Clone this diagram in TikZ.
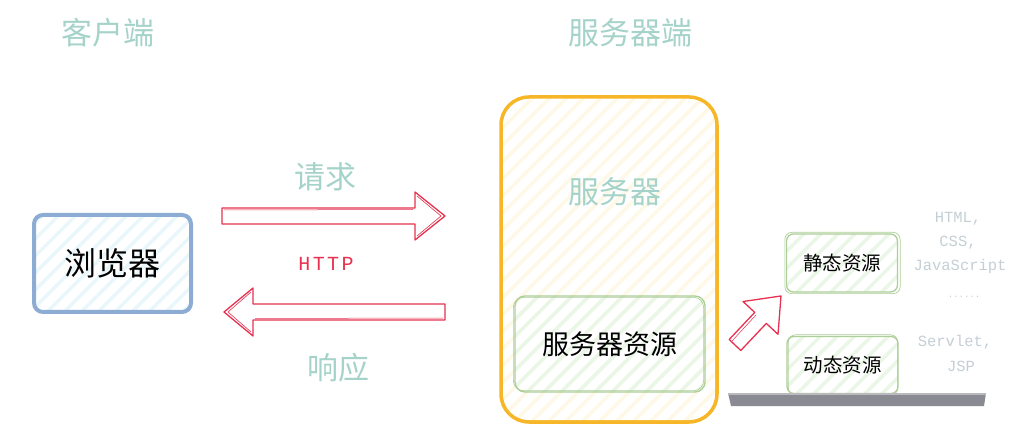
\documentclass[tikz,border=0pt]{standalone}
\usepackage{fontspec}
\setmainfont{Noto Sans CJK SC}
\newfontfamily\cjk{Noto Sans CJK SC}
\newfontfamily\hand[LetterSpace=12]{Liberation Mono}
\newfontfamily\handsm{Liberation Mono}
\usetikzlibrary{patterns.meta}
\definecolor{tealtxt}{RGB}{166,211,201}
\definecolor{graytxt}{RGB}{196,207,212}
\definecolor{redc}{RGB}{230,50,80}
\definecolor{bluec}{RGB}{140,172,212}
\definecolor{bluef}{RGB}{233,247,251}
\definecolor{orangec}{RGB}{246,182,40}
\definecolor{yellowf}{RGB}{254,248,230}
\definecolor{greenc}{RGB}{172,206,152}
\definecolor{greenf}{RGB}{234,246,230}
\definecolor{barc}{RGB}{138,138,146}
\tikzset{
  title/.style={text=tealtxt, font=\cjk\fontsize{31}{36}\selectfont, inner sep=0pt},
  note/.style={text=graytxt, font=\handsm\fontsize{15.5}{18}\selectfont, inner sep=0pt},
  stripes/.style={pattern={Lines[angle=45,distance=12pt,line width=3.5pt]}, pattern color=#1},
  bigarrow/.style={draw=redc, line width=1.3pt, fill=white, line join=round},
}
\begin{document}
\begin{tikzpicture}[x=1pt,y=-1pt]
\useasboundingbox (0,0) rectangle (1025,427);
% titles
\node[title] (client) at (108,33) {客户端};
\node[title] (servert) at (630,33) {服务器端};
% browser
\node[draw=bluec, line width=4pt, rounded corners=9pt, stripes=bluef,
      minimum width=157pt, minimum height=97pt, font=\cjk\fontsize{32}{36}\selectfont, inner sep=0pt]
      (browser) at (112.5,263.5) {浏览器};
\draw[bluec, line width=1pt, rounded corners=8pt] ([shift={(2,-2)}]browser.south west) rectangle ([shift={(-1,1)}]browser.north east);
% server
\node[draw=orangec, line width=3.5pt, rounded corners=28pt, stripes=yellowf,
      minimum width=216pt, minimum height=325pt, inner sep=0pt]
      (server) at (609,259.5) {};
\draw[orangec, line width=1pt, rounded corners=26pt] ([shift={(3,-3)}]server.south west) rectangle ([shift={(-3,2)}]server.north east);
\node[title] (servername) at (615,192) {服务器};
\node[draw=greenc, line width=1.3pt, rounded corners=10pt, stripes=greenf,
      minimum width=190pt, minimum height=96pt, font=\cjk\fontsize{27}{32}\selectfont, inner sep=0pt]
      (res) at (610,344) {服务器资源};
\draw[greenc, line width=0.7pt, rounded corners=10pt] ([shift={(-1,-2)}]res.south west) rectangle ([shift={(-2,2)}]res.north east);
% static / dynamic
\node[draw=greenc, line width=1.3pt, rounded corners=7pt, stripes=greenf,
      minimum width=111pt, minimum height=58pt, font=\cjk\fontsize{19.5}{24}\selectfont, inner sep=0pt]
      (static) at (842,263) {静态资源};
\draw[greenc, line width=0.7pt, rounded corners=7pt] ([shift={(-1,1)}]static.south west) rectangle ([shift={(2,-1)}]static.north east);
\node[draw=greenc, line width=1.3pt, rounded corners=7pt, stripes=greenf,
      minimum width=111pt, minimum height=57pt, font=\cjk\fontsize{19.5}{24}\selectfont, inner sep=0pt]
      (dynamic) at (842.5,365) {动态资源};
\draw[greenc, line width=0.7pt, rounded corners=7pt] ([shift={(2,1)}]dynamic.south west) rectangle ([shift={(-1,-1)}]dynamic.north east);
% bar
\fill[barc] (728,393) -- (986,393) -- (984,406) -- (731,406) -- cycle;
\fill[barc!60] (728,393) rectangle (986,395);
% notes
\node[note] (n1) at (958,219) {HTML,};
\node[note] (n2) at (958,243) {CSS,};
\node[note] (n3) at (960,266) {JavaScript};
\node[note, font=\handsm\fontsize{9}{10}\selectfont] (n4) at (964,297) {......};
\node[note] (n5) at (955,342) {Servlet,};
\node[note] (n6) at (961,366) {JSP};
% request / response labels
\node[title] (req) at (325,177) {请求};
\node[title] (resp) at (338,368) {响应};
\node[text=redc, font=\hand\fontsize{20}{22}\selectfont, inner sep=0pt] (http) at (326,264) {HTTP};
% request arrow
\coordinate (reqtail) at (222,216);
\coordinate (reqtip) at (445,216);
\draw[bigarrow] ([yshift=8]reqtail) -- (415,208) -- (415,192) -- (reqtip) -- (415,240) -- (415,224) -- ([yshift=-8]reqtail) -- cycle;
\draw[redc, line width=0.6pt] (417,196) -- (441,216) -- (417,236);
\draw[redc, line width=0.5pt] (224,210) -- (413,209.5);
% response arrow
\coordinate (resptip) at (224,312);
\coordinate (resptail) at (445,312);
\draw[bigarrow] ([yshift=8]resptail) -- (253,304) -- (253,288) -- (resptip) -- (253,336) -- (253,320) -- ([yshift=-8]resptail) -- cycle;
\draw[redc, line width=0.6pt] (251,292) -- (228,312) -- (251,332);
\draw[redc, line width=0.5pt] (255,318.5) -- (443,318);
% diagonal arrow
\coordinate (dtip) at (781,296);
\draw[bigarrow] (729.2,339.5) -- (754.7,312.4) -- (743,301.5) -- (dtip) -- (778,334.3) -- (766.3,323.4) -- (740.8,350.5) -- cycle;
\draw[redc, line width=0.5pt] (732,341) -- (756,315);
\end{tikzpicture}
\end{document}
